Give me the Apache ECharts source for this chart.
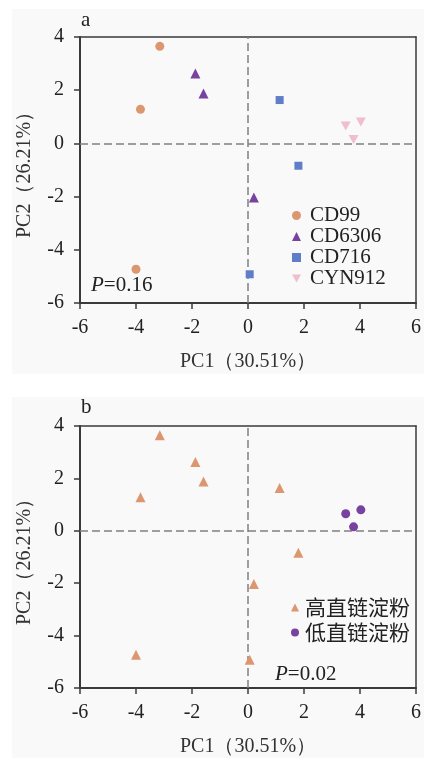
<!DOCTYPE html>
<html>
<head>
<meta charset="utf-8">
<script src="https://cdn.jsdelivr.net/npm/echarts@6/dist/echarts.min.js"></script>
<style>
html,body{margin:0;padding:0;background:#fff;}
#c{width:424px;height:758px;}
</style>
</head>
<body>
<div id="c"></div>
<script>
// ---- data ----
const groupNames = ['CD99', 'CD6306', 'CD716', 'CYN912'];
const cd99X = [-3.15, -3.84, -4.0];
const cd99Y = [3.65, 1.28, -4.73];
const cd6306X = [-1.88, -1.59, 0.21];
const cd6306Y = [2.63, 1.88, -2.03];
const cd716X = [1.13, 1.80, 0.06];
const cd716Y = [1.63, -0.84, -4.92];
const cyn912X = [3.49, 4.03, 3.77];
const cyn912Y = [0.65, 0.80, 0.15];
const amyloseNames = ['高直链淀粉', '低直链淀粉'];
const axisTicks = [-6, -4, -2, 0, 2, 4, 6];
const pValueA = '0.16';
const pValueB = '0.02';
const xTitle = 'PC1（30.51%）';
const yTitle = 'PC2（26.21%）';

function pts(xs, ys) { return xs.map((x, i) => [x, ys[i]]); }

const SERIF = '"Liberation Serif", "Times New Roman", serif';
const CJK = '"Noto Sans CJK SC", sans-serif';
const cOrange = '#DC9670', cPurple = '#7842A0', cBlue = '#5F7DC8', cPink = '#F0BECD';
const invTri = 'path://M0,0 L10,0 L5,8.66 Z';

function bottomAxis(grid) {
  return {
    type: 'value', gridIndex: grid, min: axisTicks[0], max: axisTicks[axisTicks.length - 1], interval: 2,
    position: 'bottom',
    name: xTitle, nameLocation: 'middle', nameGap: 49,
    nameTextStyle: { fontFamily: SERIF, fontSize: 20, color: '#333' },
    axisLine: { show: true, onZero: false, lineStyle: { color: '#3a3a3a', width: 2 } },
    axisTick: { show: true, length: 6, lineStyle: { color: '#3a3a3a', width: 1.5 } },
    axisLabel: { fontFamily: SERIF, fontSize: 20, color: '#222', margin: 15 },
    splitLine: { show: false }
  };
}
function topAxis(grid) {
  return {
    type: 'value', gridIndex: grid, min: -6, max: 6, interval: 2, position: 'top',
    axisLine: { show: true, onZero: false, lineStyle: { color: '#3a3a3a', width: 1.5 } },
    axisTick: { show: false }, axisLabel: { show: false }, splitLine: { show: false }
  };
}
function leftAxis(grid) {
  return {
    type: 'value', gridIndex: grid, min: -6, max: 4, interval: 2, position: 'left',
    name: yTitle, nameLocation: 'middle', nameGap: 45, nameRotate: 90,
    nameTextStyle: { fontFamily: SERIF, fontSize: 20, color: '#333' },
    axisLine: { show: true, onZero: false, lineStyle: { color: '#3a3a3a', width: 2 } },
    axisTick: { show: true, length: 6, lineStyle: { color: '#3a3a3a', width: 1.5 } },
    axisLabel: { fontFamily: SERIF, fontSize: 20, color: '#222', margin: 16 },
    splitLine: { show: false }
  };
}
function rightAxis(grid) {
  return {
    type: 'value', gridIndex: grid, min: -6, max: 4, interval: 2, position: 'right',
    axisLine: { show: true, onZero: false, lineStyle: { color: '#3a3a3a', width: 1.5 } },
    axisTick: { show: false }, axisLabel: { show: false }, splitLine: { show: false }
  };
}

const zeroLines = {
  silent: true, symbol: 'none', label: { show: false },
  lineStyle: { color: '#808080', type: [8, 4], width: 1.5 },
  data: [{ xAxis: 0 }, { yAxis: 0 }]
};

function sc(name, data, symbol, size, color, xi, yi, extra) {
  return Object.assign({
    type: 'scatter', name, data, symbol, symbolSize: size,
    xAxisIndex: xi, yAxisIndex: yi,
    itemStyle: { color, opacity: 1 }, z: 5
  }, extra || {});
}

const option = {
  animation: false,
  backgroundColor: '#ffffff',
  grid: [
    { left: 80, top: 37, width: 340, height: 266 },
    { left: 80, top: 426, width: 340, height: 265 }
  ],
  xAxis: [bottomAxis(0), topAxis(0), bottomAxis(1), topAxis(1)],
  yAxis: [leftAxis(0), rightAxis(0), leftAxis(1), rightAxis(1)],
  legend: [
    {
      data: [
        { name: groupNames[0], icon: 'circle' },
        { name: groupNames[1], icon: 'triangle' },
        { name: groupNames[2], icon: 'rect' },
        { name: groupNames[3], icon: invTri }
      ],
      orient: 'vertical', left: 292, top: 205, padding: 0,
      itemWidth: 9, itemHeight: 9, itemGap: 0,
      textStyle: { fontFamily: SERIF, fontSize: 21, color: '#222', lineHeight: 21, padding: [0, 0, 0, 4] }
    },
    {
      data: [
        { name: amyloseNames[0], icon: 'triangle' },
        { name: amyloseNames[1], icon: 'circle' }
      ],
      orient: 'vertical', left: 291, top: 597, padding: 0,
      itemWidth: 8, itemHeight: 8, itemGap: 4,
      textStyle: { fontFamily: CJK, fontSize: 21, color: '#222', lineHeight: 21, padding: [0, 0, 0, 1] }
    }
  ],
  graphic: [
    { type: 'rect', left: 12, top: 9, z: -10, shape: { width: 412, height: 365 }, style: { fill: '#f9f9f9' } },
    { type: 'rect', left: 12, top: 397, z: -10, shape: { width: 412, height: 361 }, style: { fill: '#f9f9f9' } },
    { type: 'text', left: 81, top: 10, style: { text: 'a', font: '21px ' + SERIF, fill: '#222' } },
    { type: 'text', left: 81, top: 397, style: { text: 'b', font: '21px ' + SERIF, fill: '#222' } },
    { type: 'text', left: 91, top: 275, z: 10, style: { text: '{i|P}=' + pValueA, font: '21px ' + SERIF, fill: '#222', rich: { i: { fontStyle: 'italic', fontFamily: SERIF, fontSize: 21 } } } },
    { type: 'text', left: 275, top: 664, z: 10, style: { text: '{i|P}=' + pValueB, font: '21px ' + SERIF, fill: '#222', rich: { i: { fontStyle: 'italic', fontFamily: SERIF, fontSize: 21 } } } }
  ],
  series: [
    sc(groupNames[0], pts(cd99X, cd99Y), 'circle', 9, cOrange, 0, 0, { markLine: zeroLines }),
    sc(groupNames[1], pts(cd6306X, cd6306Y), 'triangle', 10, cPurple, 0, 0),
    sc(groupNames[2], pts(cd716X, cd716Y), 'rect', 8, cBlue, 0, 0),
    sc(groupNames[3], pts(cyn912X, cyn912Y), invTri, [10, 9], cPink, 0, 0),
    sc(amyloseNames[0], pts(cd99X.concat(cd6306X, cd716X), cd99Y.concat(cd6306Y, cd716Y)), 'triangle', 10, cOrange, 2, 2, { markLine: zeroLines }),
    sc(amyloseNames[1], pts(cyn912X, cyn912Y), 'circle', 9, cPurple, 2, 2)
  ]
};

const chart = echarts.init(document.getElementById('c'), null, { renderer: 'canvas' });
chart.setOption(option);
</script>
</body>
</html>
